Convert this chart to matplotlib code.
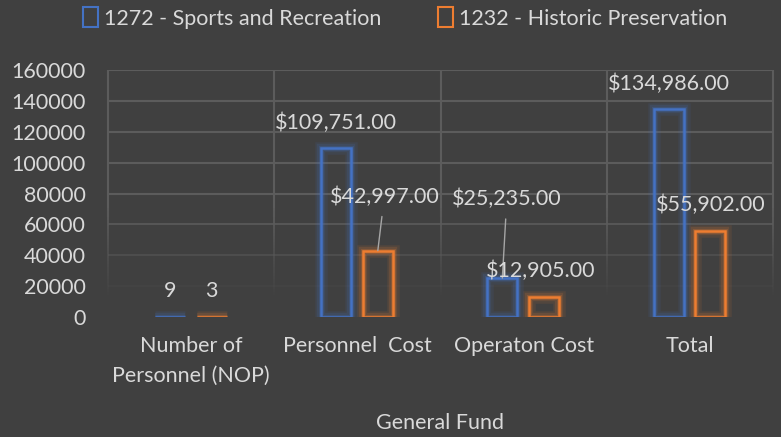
import matplotlib
matplotlib.use("Agg")
import matplotlib.pyplot as plt
from matplotlib.patches import Patch
from matplotlib.collections import LineCollection
import numpy as np

# chart data
categories = ["Number of\nPersonnel (NOP)", "Personnel  Cost", "Operaton Cost", "Total"]
series_names = ["1272 - Sports and Recreation", "1232 - Historic Preservation"]
sports = [9, 109751, 25235, 134986]
historic = [3, 42997, 12905, 55902]
sports_labels = ["9", "$109,751.00", "$25,235.00", "$134,986.00"]
historic_labels = ["3", "$42,997.00", "$12,905.00", "$55,902.00"]
yticks = [0, 20000, 40000, 60000, 80000, 100000, 120000, 140000, 160000]
x_title = "General Fund"

BG = "#404040"
TXT = "#D9D9D9"
GRID = "#5C5C5C"
BLUE = "#4472C4"
ORANGE = "#ED7D31"
LEADER = "#A6A6A6"

plt.rcParams["font.family"] = ["Lato", "DejaVu Sans"]

W, H = 781, 437
fig = plt.figure(figsize=(W / 100, H / 100), dpi=100, facecolor=BG)
ax = fig.add_axes([108 / W, 1 - 317 / H, 665 / W, 247 / H])
ax.set_facecolor(BG)
ax.set_xlim(-0.5, 3.5)
ax.set_ylim(0, 160000)


def fade(v):
    # gridlines fade out towards the bottom of the plot
    return np.clip((v - 12000) / 60000, 0, 1)


# horizontal gridlines
for v in yticks[1:]:
    ax.axhline(v, color=GRID, lw=1.5, alpha=float(fade(v)), zorder=0)

# vertical category separators with the same fade
ys = np.linspace(0, 160000, 80)
segs, cols = [], []
for xb in [-0.5, 0.5, 1.5, 2.5, 3.5]:
    for y0, y1 in zip(ys[:-1], ys[1:]):
        segs.append([(xb, y0), (xb, y1)])
        cols.append((0.36, 0.36, 0.36, float(fade((y0 + y1) / 2))))
ax.add_collection(LineCollection(segs, colors=cols, linewidths=1.5, zorder=0, clip_on=False))

x = np.arange(len(categories))
width = 0.18
offsets = [-0.128, 0.123]

for vals, off, color in [(sports, offsets[0], BLUE), (historic, offsets[1], ORANGE)]:
    # soft glow behind the outline
    for lw, a in [(9, 0.10), (6, 0.15), (3.5, 0.25)]:
        ax.bar(x + off, vals, width, facecolor="none", edgecolor=color,
               linewidth=lw, alpha=a, zorder=2)
    ax.bar(x + off, vals, width, facecolor="none", edgecolor=color,
           linewidth=1.8, zorder=3)

# data labels: (dx, dy) in pixels from bar top, leader line or not
sports_pos = [(0, 26, False), (0, 25, False), (4.5, 79, True), (0, 25, False)]
historic_pos = [(0, 26, False), (6.5, 54, True), (-3, 26, False), (0, 26, False)]

for vals, labels, pos, off in [(sports, sports_labels, sports_pos, offsets[0]),
                               (historic, historic_labels, historic_pos, offsets[1])]:
    for i, (v, lab, (dx, dy, lead)) in enumerate(zip(vals, labels, pos)):
        kw = {}
        if lead:
            kw["arrowprops"] = dict(arrowstyle="-", color=LEADER, lw=1,
                                    shrinkA=5, shrinkB=0)
        ax.annotate(lab, xy=(x[i] + off, v), xytext=(dx, dy),
                    textcoords="offset pixels", ha="center", va="center",
                    fontsize=15.5, color=TXT, zorder=5, **kw)

ax.set_xticks(x)
ax.set_xticklabels(categories, fontsize=15.5, color=TXT, linespacing=1.6)
ax.set_yticks(yticks)
ax.set_yticklabels([str(v) for v in yticks], fontsize=15.5, color=TXT)
ax.tick_params(axis="x", length=0, pad=14)
ax.tick_params(axis="y", length=0, pad=16)
for s in ax.spines.values():
    s.set_visible(False)

fig.text(440.5 / W, 1 - 423 / H, x_title, ha="center", va="center",
         fontsize=15.5, color=TXT)

handles = [Patch(facecolor="none", edgecolor=BLUE, lw=1.5, label=series_names[0]),
           Patch(facecolor="none", edgecolor=ORANGE, lw=1.5, label=series_names[1])]
fig.legend(handles=handles, loc="center", bbox_to_anchor=(405 / W, 1 - 18 / H),
           ncol=2, frameon=False, fontsize=15.5, labelcolor=TXT,
           handlelength=0.7, handleheight=1.0, handletextpad=0.3, columnspacing=2.6)

fig.savefig("out.png", dpi=100, facecolor=BG)
